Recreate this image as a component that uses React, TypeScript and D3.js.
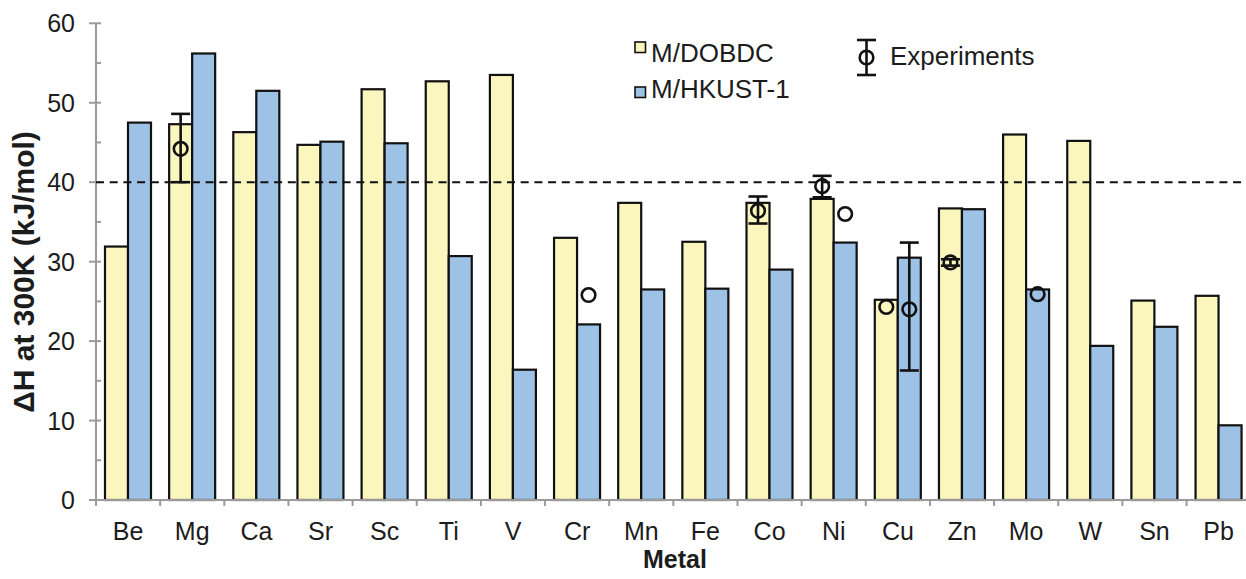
import React from "react";
import * as d3 from "d3";

// Binding enthalpy at 300 K for metal-substituted MOFs
const metals = ["Be", "Mg", "Ca", "Sr", "Sc", "Ti", "V", "Cr", "Mn", "Fe", "Co", "Ni", "Cu", "Zn", "Mo", "W", "Sn", "Pb"];
const dobdc = [31.9, 47.3, 46.3, 44.7, 51.7, 52.7, 53.5, 33.0, 37.4, 32.5, 37.4, 37.9, 25.2, 36.7, 46.0, 45.2, 25.1, 25.7];
const hkust = [47.5, 56.2, 51.5, 45.1, 44.9, 30.7, 16.4, 22.1, 26.5, 26.6, 29.0, 32.4, 30.5, 36.6, 26.5, 19.4, 21.8, 9.4];

// Experimental values: metal, framework, value, optional error range
const expMetal = ["Mg", "Cr", "Co", "Ni", "Ni", "Cu", "Cu", "Zn", "Mo"];
const expSeries = ["dobdc", "hkust", "dobdc", "dobdc", "hkust", "dobdc", "hkust", "dobdc", "hkust"];
const expValue = [44.2, 25.8, 36.4, 39.5, 36.0, 24.3, 24.0, 29.9, 25.9];
const expLow = [40.0, null, 34.8, 38.1, null, null, 16.3, 29.5, null];
const expHigh = [48.6, null, 38.2, 40.8, null, null, 32.4, 30.3, null];

const yTicks = [0, 10, 20, 30, 40, 50, 60];
const threshold = 40;

const W = 1246;
const H = 579;
const FONT = "'Liberation Sans', Arial, Helvetica, sans-serif";
const YELLOW = "#FBF6BE";
const BLUE = "#9EC2E6";
const AXIS = "#9a9a9a";
const INK = "#111";
const TEXT = "#1c1c1c";

export default function App() {
  const x0 = 96;
  const band = 64.15;
  const x = d3.scaleBand<string>().domain(metals).range([x0, x0 + band * metals.length]).paddingInner(0).paddingOuter(0);
  const y = d3.scaleLinear().domain([0, 60]).range([500, 23.3]);
  const minor = d3.range(5, 60, 10);

  const barX = (m: string, s: string) => (x(m) as number) + 9 + (s === "dobdc" ? 0 : 23);
  const barW = 23;

  return (
    <svg width={W} height={H} style={{ position: "absolute", left: 0, top: 0, display: "block", background: "#fff" }} fontFamily={FONT}>
      {/* bars */}
      {metals.map((m, i) => (
        <g key={m}>
          <rect x={barX(m, "dobdc")} y={y(dobdc[i])} width={barW} height={y(0) - y(dobdc[i])} fill={YELLOW} stroke={INK} strokeWidth={2.2} />
          <rect x={barX(m, "hkust")} y={y(hkust[i])} width={barW} height={y(0) - y(hkust[i])} fill={BLUE} stroke={INK} strokeWidth={2.2} />
        </g>
      ))}

      {/* y axis */}
      <line x1={x0} x2={x0} y1={y(60)} y2={y(0)} stroke={AXIS} strokeWidth={2} />
      {yTicks.map((t) => (
        <g key={t}>
          <line x1={x0 - 7} x2={x0 + 5} y1={y(t)} y2={y(t)} stroke={AXIS} strokeWidth={2} />
          <text x={75} y={y(t)} dy="0.36em" textAnchor="end" fontSize={25} fill={TEXT}>{t}</text>
        </g>
      ))}
      {minor.map((t) => (
        <line key={t} x1={x0} x2={x0 + 5} y1={y(t)} y2={y(t)} stroke={AXIS} strokeWidth={2} />
      ))}

      {/* x axis */}
      <line x1={x0 - 7} x2={W} y1={y(0)} y2={y(0)} stroke={AXIS} strokeWidth={2} />
      {metals.map((m) => (
        <line key={m} x1={x(m) as number} x2={x(m) as number} y1={y(0)} y2={y(0) + 6} stroke={AXIS} strokeWidth={2} />
      ))}
      {metals.map((m) => (
        <text key={m} x={(x(m) as number) + x.bandwidth() / 2} y={540} textAnchor="middle" fontSize={25} fill={TEXT}>{m}</text>
      ))}

      {/* reference line */}
      <line x1={x0} x2={W} y1={y(threshold)} y2={y(threshold)} stroke={INK} strokeWidth={2} strokeDasharray="8 5.7" />

      {/* experiments */}
      {expMetal.map((m, i) => {
        const cx = barX(m, expSeries[i]) + barW / 2;
        const lo = expLow[i];
        const hi = expHigh[i];
        return (
          <g key={i} stroke={INK} fill="none" strokeWidth={2.6}>
            {lo != null && hi != null && (
              <>
                <line x1={cx} x2={cx} y1={y(hi)} y2={y(lo)} />
                <line x1={cx - 9.5} x2={cx + 9.5} y1={y(hi)} y2={y(hi)} />
                <line x1={cx - 9.5} x2={cx + 9.5} y1={y(lo)} y2={y(lo)} />
              </>
            )}
            <circle cx={cx} cy={y(expValue[i])} r={6.8} />
          </g>
        );
      })}

      {/* legend */}
      <rect x={635} y={42} width={10.5} height={10.5} fill={YELLOW} stroke={INK} strokeWidth={1.6} />
      <text x={651} y={62} fontSize={26} fill={TEXT}>M/DOBDC</text>
      <rect x={635} y={87} width={10.5} height={10.5} fill={BLUE} stroke={INK} strokeWidth={1.6} />
      <text x={651} y={98} fontSize={26} fill={TEXT}>M/HKUST-1</text>
      <g stroke={INK} fill="none" strokeWidth={2.6}>
        <line x1={866.5} x2={866.5} y1={40} y2={75} />
        <line x1={857} x2={876} y1={40} y2={40} />
        <line x1={857} x2={876} y1={75} y2={75} />
        <circle cx={866.5} cy={57.5} r={6.8} />
      </g>
      <text x={890} y={65} fontSize={26} fill={TEXT}>Experiments</text>

      {/* axis titles */}
      <text x={675} y={568} textAnchor="middle" fontSize={25} fontWeight="bold" fill={TEXT}>Metal</text>
      <text transform="translate(34,272) rotate(-90)" textAnchor="middle" fontSize={30} fontWeight="bold" fill={TEXT}>ΔH at 300K (kJ/mol)</text>
    </svg>
  );
}
